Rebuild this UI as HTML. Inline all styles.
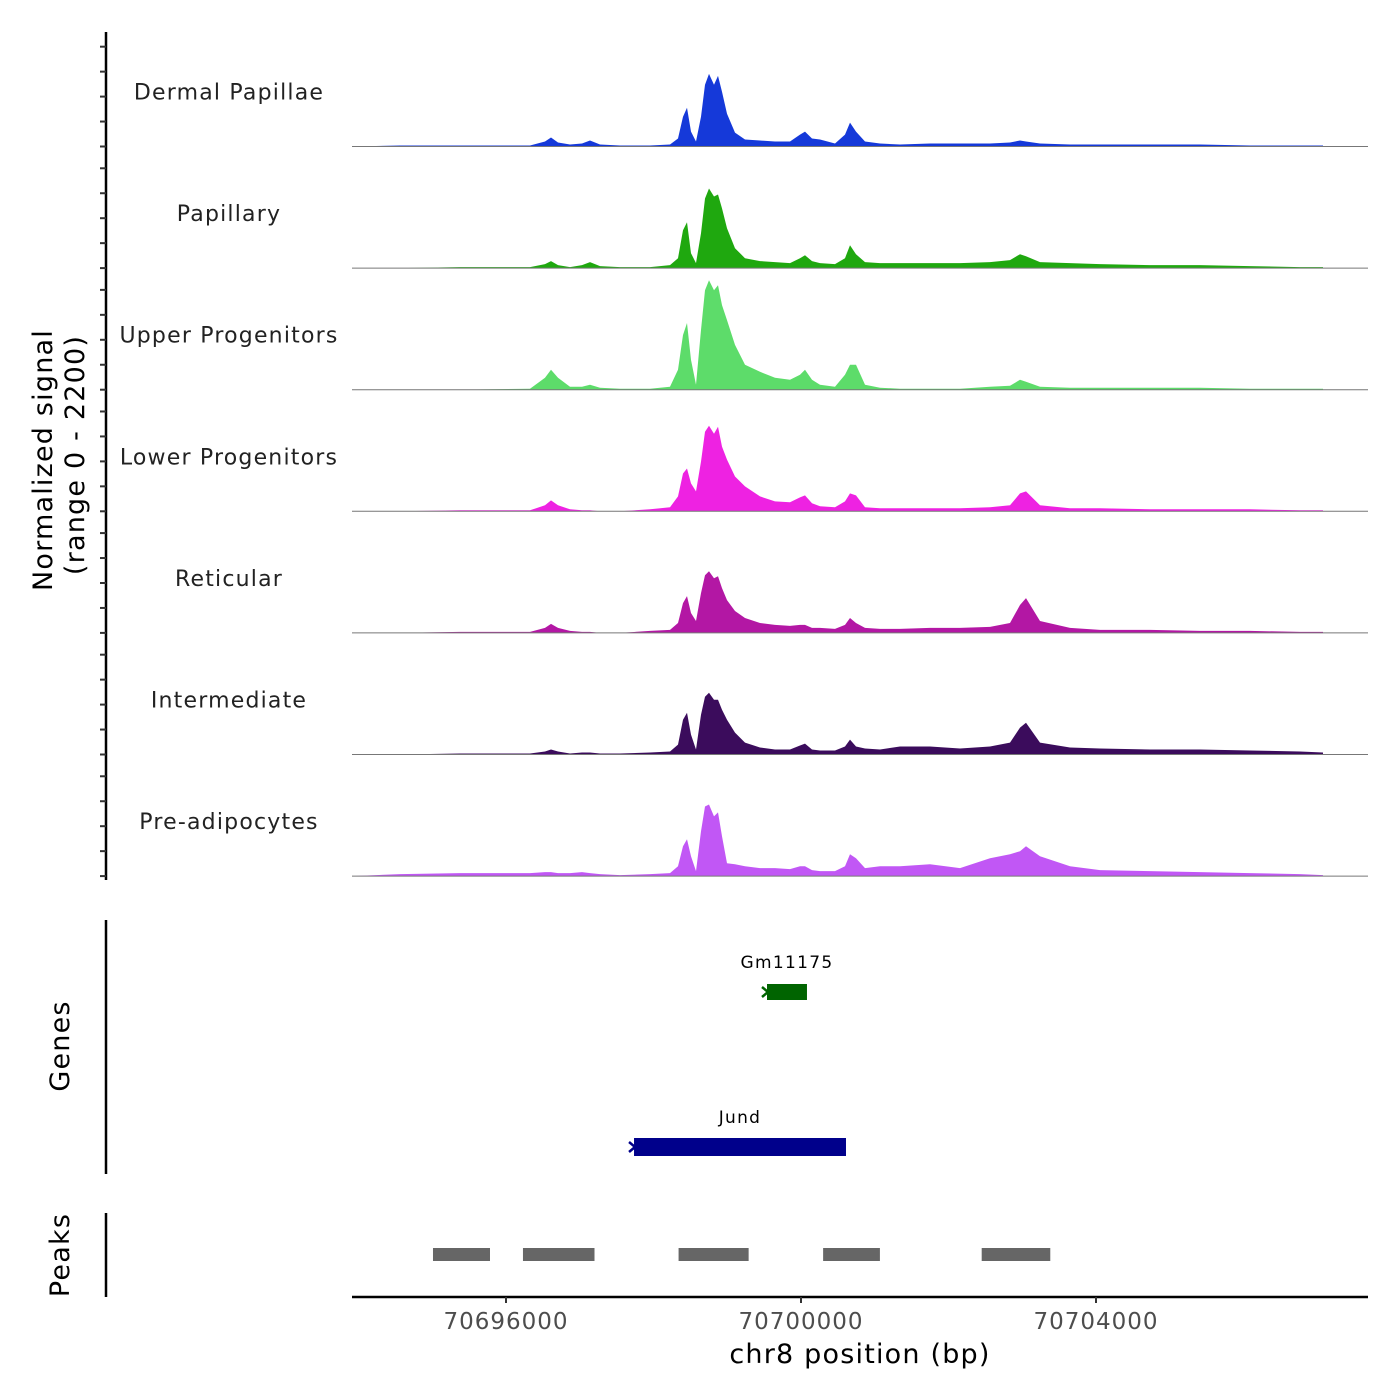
<!DOCTYPE html>
<html><head><meta charset="utf-8"><style>
html,body{margin:0;padding:0;background:#fff;}
svg{display:block;font-family:"DejaVu Sans","Liberation Sans",sans-serif;}
</style></head><body>
<svg id="chart" width="1400" height="1400" viewBox="0 0 1400 1400" xmlns="http://www.w3.org/2000/svg">
<rect width="1400" height="1400" fill="#fff"/>
<g id="tracks"></g>
<g id="yaxis"></g>
<text transform="translate(52,460) rotate(-90)" text-anchor="middle" font-size="27" letter-spacing="1.2" fill="#000">Normalized signal</text>
<text transform="translate(84,455) rotate(-90)" text-anchor="middle" font-size="27" letter-spacing="1.2" fill="#000">(range 0 - 2200)</text>
<line x1="106" y1="920" x2="106" y2="1174" stroke="#000" stroke-width="2.5"/>
<text transform="translate(69,1046) rotate(-90)" text-anchor="middle" font-size="27" letter-spacing="1.2" fill="#000">Genes</text>
<g id="genes"></g>
<line x1="106" y1="1213" x2="106" y2="1297" stroke="#000" stroke-width="2.5"/>
<text transform="translate(69,1255) rotate(-90)" text-anchor="middle" font-size="27" letter-spacing="1.2" fill="#000">Peaks</text>
<g id="peaks"></g>
<g id="xaxis"></g>
<text x="860" y="1363" text-anchor="middle" font-size="27" letter-spacing="1.2" fill="#000">chr8 position (bp)</text>
</svg>
<script>
const positions=[70693912,70694563,70695376,70696325,70696529,70696610,70696705,70696868,70697030,70697139,70697275,70697546,70697953,70698224,70698332,70698400,70698454,70698508,70698576,70698644,70698698,70698752,70698820,70698875,70698929,70698997,70699105,70699241,70699444,70699647,70699851,70699986,70700054,70700149,70700258,70700461,70700597,70700664,70700746,70700868,70701071,70701342,70701749,70702156,70702563,70702834,70702969,70703051,70703241,70703647,70704054,70704732,70705410,70706088,70706766,70707078];
const trackNames=["Dermal Papillae","Papillary","Upper Progenitors","Lower Progenitors","Reticular","Intermediate","Pre-adipocytes"];
const trackColors=["#1539d9","#1fa80f","#5ddc6a","#ee22e2","#b317a4","#3b0c5c","#c157f5"];
const sigDP=[0,18,18,18,90,162,72,36,54,108,36,18,18,36,144,540,702,270,90,540,1116,1314,1116,1278,990,594,252,126,108,90,90,216,270,144,126,54,216,432,270,90,54,36,54,54,54,72,108,90,54,36,36,36,36,18,18,18];
const sigPap=[0,0,18,18,72,126,54,18,54,108,36,18,18,54,180,684,828,270,90,630,1260,1440,1296,1332,1080,720,360,180,126,108,90,180,234,126,90,72,180,414,252,108,90,90,90,90,108,144,252,216,108,90,72,54,54,36,18,18];
const sigUpper=[0,0,0,18,216,360,216,54,54,90,36,18,18,54,360,990,1206,540,90,1080,1800,1980,1800,1890,1530,1260,810,450,324,216,180,270,360,180,90,54,270,450,450,90,36,18,18,18,54,72,180,144,54,36,36,36,36,18,18,18];
const sigLower=[0,0,18,18,108,198,108,36,18,18,0,0,36,72,270,684,774,504,360,900,1440,1548,1404,1530,1170,936,630,450,270,180,162,252,288,144,90,72,180,324,288,72,54,54,54,54,72,108,324,360,108,54,54,36,36,36,18,18];
const sigRet=[0,0,18,18,90,162,90,36,18,18,0,0,36,54,180,540,666,360,216,720,1044,1116,990,1026,810,594,396,270,180,144,126,144,144,90,90,72,144,270,180,90,72,72,90,90,108,180,504,630,216,90,54,54,36,36,18,18];
const sigInter=[0,0,18,18,54,90,54,18,36,36,18,18,36,54,180,630,756,360,90,720,1044,1116,990,990,810,630,396,216,126,90,90,162,198,90,72,72,144,270,144,108,90,144,144,108,144,216,486,576,216,126,108,90,90,72,54,36];
const sigPre=[0,36,54,54,72,72,54,54,72,54,36,18,36,54,180,540,666,360,90,810,1260,1296,1080,1152,720,234,216,180,144,144,126,180,180,108,90,90,180,396,324,144,180,180,216,144,324,396,450,540,360,180,108,90,72,54,36,18];
const signals=[sigDP,sigPap,sigUpper,sigLower,sigRet,sigInter,sigPre];
const yTickValues=[0,450,900,1350,1800];
const xTickValues=[70696000,70700000,70704000];
const xTickLabels=["70696000","70700000","70704000"];
const geneNames=["Gm11175","Jund"];
const geneStarts=[70699539,70697736];
const geneEnds=[70700081,70700610];
const geneColors=["#006400","#00008b"];
const peakStarts=[70695010,70696230,70698340,70700300,70702450];
const peakEnds=[70695783,70697200,70699290,70701070,70703380];

const NS="http://www.w3.org/2000/svg";
function mk(tag,attrs,parent){const e=document.createElementNS(NS,tag);for(const k in attrs)e.setAttribute(k,attrs[k]);parent.appendChild(e);return e;}
const X0=70696000,PX0=506,PPB=0.07375;
function xs(bp){return PX0+(bp-X0)*PPB;}
const TRACK_H=121.6, BASE0=146.5, YMAX=2200;
function ys(v,i){return BASE0+i*TRACK_H - v/YMAX*TRACK_H;}

const tracks=document.getElementById('tracks');
signals.forEach((s,i)=>{
  const g=mk('g',{},tracks);
  
  
  let d='M'+xs(positions[0]).toFixed(1)+','+ys(0,i).toFixed(1);
  positions.forEach((p,j)=>{d+=' L'+xs(p).toFixed(1)+','+ys(s[j],i).toFixed(1);});
  d+=' L'+xs(positions[positions.length-1]).toFixed(1)+','+ys(0,i).toFixed(1)+' Z';
  const a=mk('path',{d:d,fill:trackColors[i]},g);
  
  
  const bl=mk('line',{x1:352,x2:1368,y1:ys(0,i),y2:ys(0,i),stroke:'#777','stroke-width':1},g);
  
  
  const t=mk('text',{x:229,y:ys(0,i)-47,'text-anchor':'middle','font-size':22,'letter-spacing':1.2,fill:'#222'},g);
  t.textContent=trackNames[i];
  
  
});

const yaxis=document.getElementById('yaxis');
mk('line',{x1:106,x2:106,y1:32,y2:880,stroke:'#000','stroke-width':2.5},yaxis);
for(let i=0;i<7;i++){yTickValues.forEach(v=>{
  const y=BASE0+i*TRACK_H - v/2200*122;
  const tk=mk('line',{x1:100,x2:106,y1:y,y2:y,stroke:'#333','stroke-width':2},yaxis);
  
  
});}

const genes=document.getElementById('genes');
const geneRows=[992,1147];
geneNames.forEach((n,i)=>{
  const x1=xs(geneStarts[i]),x2=xs(geneEnds[i]),h=i==0?16:18;
  const r=mk('rect',{x:x1,y:geneRows[i]-h/2,width:x2-x1,height:h,fill:geneColors[i]},genes);
  
  
  const m=mk('path',{d:'M'+(x1-5)+','+(geneRows[i]-5)+' L'+(x1+1)+','+geneRows[i]+' L'+(x1-5)+','+(geneRows[i]+5),stroke:geneColors[i],'stroke-width':2.5,fill:'none'},genes);
  
  
  const t=mk('text',{x:(x1+x2)/2,y:geneRows[i]-24,'text-anchor':'middle','font-size':17,'letter-spacing':1.3,fill:'#000'},genes);
  t.textContent=n;
  
  
});

const peaks=document.getElementById('peaks');
peakStarts.forEach((s,i)=>{
  const r=mk('rect',{x:xs(s),y:1248,width:xs(peakEnds[i])-xs(s),height:13,fill:'#666'},peaks);
  
  
});

const xaxis=document.getElementById('xaxis');
mk('line',{x1:352,x2:1368,y1:1297,y2:1297,stroke:'#000','stroke-width':2.5},xaxis);
xTickValues.forEach((v,i)=>{
  const x=xs(v);
  const tk=mk('line',{x1:x,x2:x,y1:1297,y2:1303,stroke:'#333','stroke-width':2},xaxis);
  
  
  const t=mk('text',{x:x,y:1329,'text-anchor':'middle','font-size':23,'letter-spacing':1,fill:'#4d4d4d'},xaxis);
  t.textContent=xTickLabels[i];
  
  
});
</script>
</body></html>
